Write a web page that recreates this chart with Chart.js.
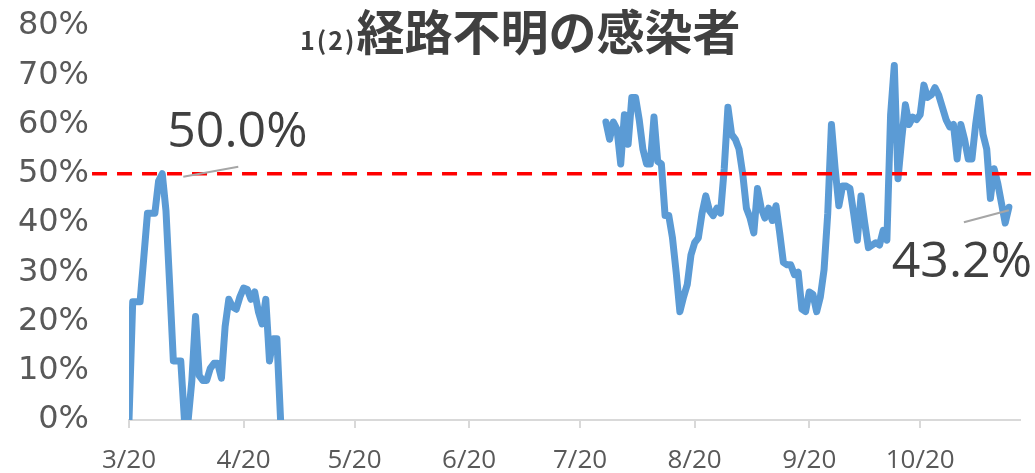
<!DOCTYPE html>
<html lang="ja">
<head>
<meta charset="utf-8">
<title>経路不明の感染者</title>
<script src="https://cdn.jsdelivr.net/npm/chart.js@4"></script>
<style>
  body { margin: 0; background: #fff; }
  #wrap { position: relative; width: 1035px; height: 473px; }
  #chart-title {
    position: absolute; left: 300px; top: 5px;
    font-family: "Noto Sans CJK JP", sans-serif; font-weight: bold;
    color: #404040; white-space: nowrap; line-height: 1;
  }
  #chart-title .num { font-size: 25px; letter-spacing: 2px; }
  #chart-title .main { font-size: 48px; }
</style>
</head>
<body>
<div id="wrap">
  <canvas id="my-chart" width="1035" height="473"></canvas>
  <div id="chart-title"><span class="num">1(2)</span><span class="main">経路不明の感染者</span></div>
</div>
<script>
'use strict';

// ***** DATA *****
// day index counted from 3/20
let tickDays = [0, 31, 61, 92, 122, 153, 184, 214];
let tickLabels = ['3/20', '4/20', '5/20', '6/20', '7/20', '8/20', '9/20', '10/20'];
let yTicks = [0, 10, 20, 30, 40, 50, 60, 70, 80];

// 3/20 - 4/30
let springStart = 0;
let springValues = [0, 24, 24, 24, 33, 42, 42, 42, 48.5, 50,
  42.5, 27.5, 12, 12, 12, 0, 0, 8, 21, 9,
  8, 8, 10.5, 11.5, 11.5, 8.5, 19, 24.5, 23, 22.5,
  25, 26.8, 26.5, 24.5, 26, 22, 19.5, 24.5, 12, 16.5,
  16.5, 0];

// 7/27 - 11/13
let summerStart = 129;
let summerValues = [60.5, 57, 60.5, 59, 52, 62, 56, 65.5, 65.5, 61,
  55, 52, 52, 61.5, 52.5, 52, 41.5, 41.5, 37, 30,
  22, 25, 27.5, 33.5, 36, 37, 42, 45.5, 42.5, 41.5,
  43, 42, 51, 63.5, 58, 57, 55, 50, 43, 41,
  38, 47, 43, 41, 43, 40.5, 43.5, 38, 32, 31.5,
  31.5, 29.5, 30, 22.5, 22, 26, 25.5, 22, 25, 30.5,
  42, 60, 51, 43.5, 47.5, 47.5, 47, 42, 36.5, 45.5,
  40, 35, 35.5, 36, 35.5, 38.5, 36.5, 62, 72, 49,
  57, 64, 60, 61.5, 61, 62, 68, 65.5, 66, 67.5,
  66, 63.5, 61, 59.5, 60, 53, 60, 57, 53, 53,
  60, 65.5, 58, 55, 45, 51, 48, 44, 40, 43.2];

let targetLine = 50;

// labelled points: [day, value, text]
let callouts = [
  [9, 50, '50.0%'],
  [238, 43.2, '43.2%']
];

// ***** HELPERS *****
function toPoints(start, values) {
  let pts = [];
  for (let i = 0; i < values.length; i++) {
    pts.push({ x: start + i, y: values[i] });
  }
  return pts;
}

let baseFont = '"Open Sans", "Noto Sans", sans-serif';

// red 50% line + callout labels
let overlayPlugin = {
  id: 'overlay',
  afterDatasetsDraw(chart) {
    let c = chart.ctx;
    let xs = chart.scales.x;
    let ys = chart.scales.y;

    c.save();
    let ly = ys.getPixelForValue(targetLine);
    c.strokeStyle = '#ff0000';
    c.lineWidth = 3.5;
    c.setLineDash([15, 10]);
    c.beginPath();
    c.moveTo(xs.getPixelForValue(-10), ly);
    c.lineTo(xs.getPixelForValue(244), ly);
    c.stroke();
    c.setLineDash([]);

    // leader lines
    c.strokeStyle = '#a6a6a6';
    c.lineWidth = 2;
    let p1x = xs.getPixelForValue(callouts[0][0]);
    let p1y = ys.getPixelForValue(callouts[0][1]);
    c.beginPath();
    c.moveTo(p1x + 21, p1y + 3);
    c.lineTo(p1x + 76, p1y - 7);
    c.stroke();
    let p2x = xs.getPixelForValue(callouts[1][0]);
    let p2y = ys.getPixelForValue(callouts[1][1]);
    c.beginPath();
    c.moveTo(p2x, p2y + 3);
    c.lineTo(p2x - 45, p2y + 15);
    c.stroke();

    c.fillStyle = '#404040';
    c.font = '50px ' + baseFont;
    c.textBaseline = 'middle';
    c.textAlign = 'left';
    c.fillText(callouts[0][2], p1x + 5, p1y - 41);
    c.textAlign = 'right';
    c.fillText(callouts[1][2], 1032, p2y + 56);
    c.restore();
  }
};

// ***** CHART *****
let ctx = document.getElementById('my-chart');

let lineStyle = {
  borderColor: '#5b9bd5',
  borderWidth: 7,
  pointRadius: 0,
  tension: 0,
  borderJoinStyle: 'round',
  borderCapStyle: 'round'
};

let chartObj = {
  type: 'line',
  data: {
    datasets: [
      Object.assign({ data: toPoints(springStart, springValues) }, lineStyle),
      Object.assign({ data: toPoints(summerStart, summerValues) }, lineStyle)
    ]
  },
  options: {
    responsive: false,
    animation: false,
    // plot area: top 26, bottom 420, left 129, right 1020
    layout: { padding: { top: 26, right: 15, left: 0, bottom: 0 } },
    plugins: { legend: { display: false }, tooltip: { enabled: false } },
    scales: {
      x: {
        type: 'linear',
        min: 0,
        max: 241,
        afterBuildTicks: (s) => { s.ticks = tickDays.map(v => ({ value: v })); },
        afterFit: (s) => {
          s.height = 53;
          s.paddingLeft = 0;
          s.paddingRight = 0;
        },
        ticks: {
          autoSkip: false,
          maxRotation: 0,
          padding: 17,
          color: '#595959',
          font: { family: baseFont, size: 26 },
          callback: (v) => tickLabels[tickDays.indexOf(v)]
        },
        grid: { drawOnChartArea: false, drawTicks: true, tickLength: 8, color: '#d9d9d9', lineWidth: 2 },
        border: { color: '#d9d9d9', width: 2 }
      },
      y: {
        min: 0,
        max: 80,
        afterBuildTicks: (s) => { s.ticks = yTicks.map(v => ({ value: v })); },
        afterFit: (s) => {
          s.width = 129;
          s.paddingTop = 0;
          s.paddingBottom = 0;
        },
        ticks: {
          padding: 0,
          color: '#595959',
          font: { family: '"DejaVu Sans", sans-serif', size: 32 },
          callback: (v) => v + '%'
        },
        // hidden tick marks only push the labels away from the plot
        grid: { display: false, drawTicks: true, tickLength: 40 },
        border: { display: false }
      }
    }
  },
  plugins: [overlayPlugin]
};

new Chart(ctx, chartObj);
</script>
</body>
</html>
